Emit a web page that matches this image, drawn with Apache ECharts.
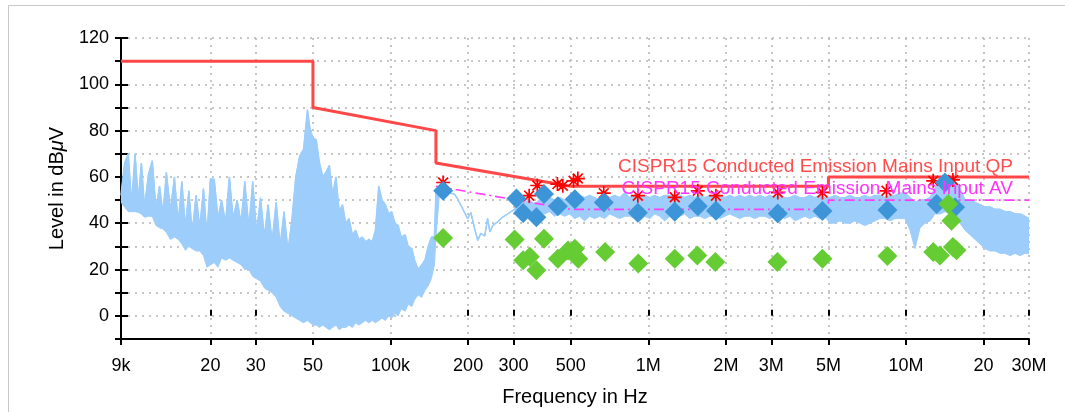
<!DOCTYPE html>
<html><head><meta charset="utf-8">
<script src="https://cdn.jsdelivr.net/npm/echarts@6/dist/echarts.min.js"></script>
<style>html,body{margin:0;padding:0;background:#fff;}#c{width:1065px;height:412px;}</style>
</head><body><div id="c"></div>
<script>
// ---- axis ticks ----
const tickValues = [9e3, 2e4, 3e4, 5e4, 1e5, 2e5, 3e5, 5e5, 1e6, 2e6, 3e6, 5e6, 1e7, 2e7, 3e7];
const tickLabels = ['9k', '20', '30', '50', '100k', '200', '300', '500', '1M', '2M', '3M', '5M', '10M', '20', '30M'];

// ---- limit lines ----
const qpLimit = [[9e3, 110], [5e4, 110], [5e4, 90], [1.5e5, 80], [1.5e5, 66], [5e5, 56], [5e6, 56], [5e6, 60], [3e7, 60]];
const avLimit = [[1.5e5, 56], [5e5, 46], [5e6, 46], [5e6, 50], [3e7, 50]];

// ---- measured points ----
const qpFreq = [160e3, 308e3, 327e3, 368e3, 394e3, 446e3, 519e3, 672e3, 911e3, 1.267e6, 1.557e6, 1.83e6, 3.18e6, 4.74e6, 8.47e6, 13.15e6, 14.16e6, 15.5e6];
const qpLevel = [54.0, 50.7, 44.4, 42.6, 52.6, 47.3, 50.4, 49.0, 44.5, 45.0, 47.3, 45.4, 44.2, 45.3, 45.7, 48.3, 57.6, 46.9];

const avFreq = [160e3, 303e3, 327e3, 347e3, 368e3, 394e3, 446e3, 488e3, 519e3, 535e3, 680e3, 915e3, 1.267e6, 1.55e6, 1.82e6, 3.17e6, 4.74e6, 8.47e6, 12.75e6, 13.54e6, 14.6e6, 15.0e6, 15.2e6, 15.7e6];
const avLevel = [33.6, 33.0, 24.0, 25.5, 19.7, 33.3, 24.7, 28.2, 29.0, 24.7, 27.6, 22.6, 24.7, 26.1, 23.3, 23.3, 24.7, 25.9, 27.6, 26.1, 48.3, 41.1, 29.7, 28.3];

const pkFreq = [160e3, 345e3, 371e3, 444e3, 466e3, 513e3, 533e3, 672e3, 911e3, 1.267e6, 1.557e6, 1.83e6, 3.18e6, 4.74e6, 8.4e6, 12.75e6, 15.2e6];
const pkLevel = [57.6, 51.9, 56.3, 56.9, 56.2, 58.3, 59.3, 53.0, 51.9, 51.2, 54.0, 51.9, 53.3, 53.3, 54.0, 58.3, 58.7];

// ---- spectrum (frequency, upper and lower envelope) ----
const specFreq = [
  9000, 9300, 9600, 9900, 10200, 10500, 10800, 11100, 11500, 11900, 12300, 12700, 13100, 13500, 14000, 14500, 15000, 15500, 16000, 16500, 17000, 17600, 18200, 18800, 19400, 20000,
  20700, 21400, 22100, 22900, 23700, 24500, 25400, 26300, 27200, 28200, 29200, 30200, 31300, 32400, 33500, 34700, 36000, 37300, 38600, 40000, 41400, 42900, 44400, 46000, 47600, 48800, 50000,
  51500, 53000, 54600, 56200, 57900, 59600, 61400, 63200, 65100, 67000, 69000, 71100, 73200, 75400, 77700, 80000, 82400, 84900, 87400, 90000, 92700, 95500, 98400, 101000, 104000, 107000, 110000, 114000, 117000, 121000, 124000, 128000, 132000, 136000, 140000, 144000, 148000,
  150000, 155000, 162000, 170000, 177000, 182000, 191000, 196000, 199000, 205000, 212000, 218000, 224000, 232000, 238000, 243000, 249000, 260000, 272000, 285000, 298000,
  317000, 331000, 347000, 362000, 379000, 396000, 414000, 433000, 453000, 474000, 495000, 518000, 542000, 566000, 592000, 619000, 648000, 677000, 708000, 741000, 775000, 810000, 847000, 886000, 926000, 969000,
  1013000, 1059000, 1107000, 1158000, 1211000, 1267000, 1325000, 1385000, 1448000, 1515000,
  1584000, 1656000, 1732000, 1811000, 1894000, 1981000, 2071000, 2166000, 2265000, 2369000,
  2477000, 2590000, 2709000, 2833000, 2962000, 3098000, 3239000, 3388000, 3542000, 3704000,
  3874000, 4051000, 4236000, 4430000, 4632000, 4844000, 5066000, 5297000, 5540000, 5793000,
  6058000, 6335000, 6625000, 6928000, 7244000, 7576000, 7922000, 8284000, 8663000, 9059000,
  9473000, 9906000, 10360000, 10830000, 11330000, 11850000, 12390000, 12950000, 13550000, 14170000,
  14810000, 15490000, 16200000, 16940000, 17710000, 18520000, 19370000, 20250000, 21180000, 22150000,
  23160000, 24220000, 25330000, 26480000, 27690000, 28960000, 30000000
];
const specHigh = [
  52, 66, 70, 48, 70, 50, 66, 47, 61, 67, 46, 56, 44, 62, 45, 60, 40, 58, 38, 54, 36, 52, 38, 55, 34, 59,
  59, 42, 50, 40, 60, 42, 50, 40, 58, 38, 58, 36, 51, 34, 48, 32, 49, 30, 45, 28, 41, 60, 69, 72, 89, 80, 77,
  76, 66, 60, 62, 65, 52, 60, 45, 48, 40, 42, 35, 37, 33, 34, 32, 33, 32, 37, 56, 50, 48, 44, 45, 40, 39, 34, 35, 30, 29, 24, 20, 22, 24, 30, 34, 34,
  53, 53.5, 53.5, 53, 52.6, 50.5, 46, 43.5, 42, 44.6, 37.6, 32.6, 35.6, 34.5, 42, 36.2, 39, 40.6, 42.6, 44, 45.5,
  48, 49, 50, 48, 50, 49, 51, 50, 51, 50, 52, 51, 52, 51, 52, 51, 50, 52, 51, 52, 51, 53, 51, 52, 51, 52,
  51, 52, 51, 52, 52, 51, 52, 51, 52, 51,
  52, 51, 52, 51, 52, 51, 52, 51, 52, 51,
  52, 51, 52, 51, 52, 51, 52, 51, 51, 52,
  51, 51, 52, 51, 52, 51, 51, 52, 51, 51,
  52, 51, 51, 52, 51, 52, 52, 51, 52, 52,
  53, 53, 51, 49, 50, 50, 51, 55, 59, 60,
  60, 58, 55, 50, 50, 49, 48, 47, 47, 46,
  46, 45, 45, 44, 44, 43, 42
];
const specLow = [
  49, 47, 45, 45, 45, 44.7, 44, 42.6, 43, 43, 39, 38, 37.5, 36, 33, 34, 33, 31, 28.3, 30, 29, 28, 28, 26, 21, 22,
  23, 21, 25, 24, 25, 24, 23, 22, 20, 20, 17, 16, 15, 12, 11, 10, 8, 4, 2, 1, 0, -1, -2, -3, -2, -3, -4,
  -4, -5, -4, -5, -6, -5, -4, -6, -5, -5, -4, -5, -3, -4, -3, -2, -3, -2, -3, -2, -1, -2, 0, -1, 1, 0, 3, 2, 5, 4, 7, 9, 8, 11, 13, 16, 22,
  34, 53.5, 53.5, 53, 52.6, 50.5, 46, 43.5, 42, 44.6, 37.6, 32.6, 35.6, 34.5, 42, 36.2, 39, 40.6, 42.6, 44, 45.5,
  46, 45, 46, 44, 45, 44, 45, 43, 44, 43, 44, 42, 43, 41, 43, 42, 43, 42, 44, 43, 42, 43, 43, 42, 41, 43,
  42, 44, 43, 41, 43, 42, 43, 44, 42, 43,
  43, 42, 43, 43, 42, 43, 44, 43, 42, 43,
  43, 42, 43, 43, 42, 43, 43, 42, 43, 41,
  42, 43, 42, 43, 42, 43, 40, 40, 41, 40,
  40, 41, 40, 39, 40, 41, 42, 42, 41, 42,
  42, 42, 37, 29, 38, 40, 41, 44, 44, 45,
  44, 42, 40, 37, 35, 33, 31, 29, 28, 28,
  27, 27, 26, 27, 26, 27, 27
];

const FONT = '"Liberation Sans", Arial, Helvetica, sans-serif';
const SPEC = '#9dcdfb';

function fmtX(v) {
  let best = -1, bd = 1e9;
  tickValues.forEach((t, i) => { const d = Math.abs(Math.log(v / t)); if (d < bd) { bd = d; best = i; } });
  return bd < 0.01 ? tickLabels[best] : '';
}

const asterisk = 'path://M-10,-1.2L10,-1.2L10,1.2L-10,1.2Z M-1.2,-10L1.2,-10L1.2,10L-1.2,10Z M-6.15,-7.85L7.85,6.15L6.15,7.85L-7.85,-6.15Z M-7.85,6.15L6.15,-7.85L7.85,-6.15L-6.15,7.85Z';

const gridLine = { color: '#b4b4b4', width: 1.5, type: [2, 5] };
const tickStyle = { color: '#000', width: 2 };

const chart = echarts.init(document.getElementById('c'));
chart.setOption({
  animation: false,
  backgroundColor: '#fff',
  textStyle: { fontFamily: FONT },
  grid: { left: 121, right: 36, top: 38, bottom: 71, containLabel: false },
  xAxis: [{
    type: 'log', logBase: 10, min: 9000, max: 3e7, position: 'bottom',
    axisLine: { show: true, onZero: false, lineStyle: tickStyle },
    axisTick: { show: true, inside: false, length: 6, lineStyle: tickStyle, customValues: tickValues },
    axisLabel: { show: true, margin: 18, color: '#000', fontSize: 18, fontFamily: FONT, customValues: tickValues, formatter: fmtX },
    splitLine: { show: true, lineStyle: gridLine },
    minorTick: { show: false }, minorSplitLine: { show: false },
    name: 'Frequency in Hz', nameLocation: 'middle', nameGap: 48,
    nameTextStyle: { fontSize: 20, color: '#000', fontFamily: FONT }
  }, {
    type: 'log', logBase: 10, min: 9000, max: 3e7, position: 'bottom',
    axisLine: { show: false },
    axisTick: { show: true, inside: true, length: 6, lineStyle: tickStyle, customValues: tickValues },
    axisLabel: { show: false }, splitLine: { show: false }
  }],
  yAxis: [{
    type: 'value', min: -10, max: 120, interval: 10, position: 'left',
    axisLine: { show: true, onZero: false, lineStyle: tickStyle },
    axisTick: { show: true, inside: false, length: 6, lineStyle: tickStyle },
    axisLabel: { margin: 12, color: '#000', fontSize: 18, fontFamily: FONT, formatter: v => (v % 20 === 0 ? String(v) : '') },
    splitLine: { show: true, lineStyle: gridLine },
    name: 'Level in dB{mu|μ}V', nameLocation: 'middle', nameGap: 54,
    nameTextStyle: { fontSize: 20, color: '#000', fontFamily: FONT, rich: { mu: { fontSize: 20, fontStyle: 'italic', fontFamily: FONT, color: '#000' } } }
  }, {
    type: 'value', min: -10, max: 120, interval: 10, position: 'left',
    axisLine: { show: false },
    axisTick: { show: true, inside: true, length: 7, lineStyle: tickStyle },
    axisLabel: { show: false }, splitLine: { show: false }
  }],
  graphic: [
    { type: 'rect', z: -10, silent: true, shape: { x: 8.5, y: 5.5, width: 1200, height: 600 }, style: { fill: 'none', stroke: '#c8c8c8', lineWidth: 1 } },
    { type: 'text', z: 100, silent: true, x: 1013, y: 167,
      style: { text: 'CISPR15 Conducted Emission Mains Input QP', fill: '#ff4d4d', font: '19px "Liberation Sans", Arial, sans-serif', textAlign: 'right', align: 'right', textVerticalAlign: 'middle', verticalAlign: 'middle' } },
    { type: 'text', z: 100, silent: true, x: 1013, y: 189,
      style: { text: 'CISPR15 Conducted Emission Mains Input AV', fill: '#ff33ff', font: '19px "Liberation Sans", Arial, sans-serif', textAlign: 'right', align: 'right', textVerticalAlign: 'middle', verticalAlign: 'middle' } }
  ],
  series: [
    {
      type: 'custom', name: 'spectrumBand', silent: true, z: 1, clip: true,
      data: specFreq.map((f, i) => [f, specHigh[i], specLow[i]]),
      encode: { x: 0, y: [1, 2] },
      renderItem: function (params, api) {
        if (params.dataIndex !== 0) return null;
        const top = [], bot = [];
        for (let i = 0; i < specFreq.length; i++) {
          top.push(api.coord([specFreq[i], specHigh[i]]));
          bot.push(api.coord([specFreq[i], specLow[i]]));
        }
        return { type: 'polygon', shape: { points: top.concat(bot.reverse()) }, style: { fill: SPEC, stroke: SPEC, lineWidth: 1 } };
      }
    },
    {
      type: 'line', name: 'spectrum', silent: true, z: 2, symbol: 'none', showSymbol: false,
      data: specFreq.map((f, i) => [f, specHigh[i]]),
      lineStyle: { color: SPEC, width: 1.5 }
    },
    {
      type: 'line', name: 'QP limit', silent: true, z: 3, symbol: 'none', data: qpLimit,
      lineStyle: { color: '#ff4747', width: 3 }
    },
    {
      type: 'line', name: 'AV limit', silent: true, z: 3, symbol: 'none', data: avLimit,
      lineStyle: { color: '#ff3cff', width: 1.6, type: [10, 4, 2, 4] }
    },
    {
      type: 'scatter', name: 'peak', silent: true, z: 4, symbol: asterisk, symbolSize: 14,
      data: pkFreq.map((f, i) => [f, pkLevel[i]]),
      itemStyle: { color: '#ff0000', opacity: 1 }
    },
    {
      type: 'scatter', name: 'QP', silent: true, z: 5, symbol: 'diamond', symbolSize: 20,
      data: qpFreq.map((f, i) => [f, qpLevel[i]]),
      itemStyle: { color: '#3d95d8', opacity: 1 }
    },
    {
      type: 'scatter', name: 'AV', silent: true, z: 6, symbol: 'diamond', symbolSize: 20,
      data: avFreq.map((f, i) => [f, avLevel[i]]),
      itemStyle: { color: '#66cc33', opacity: 1 }
    }
  ]
});
</script>
</body></html>
